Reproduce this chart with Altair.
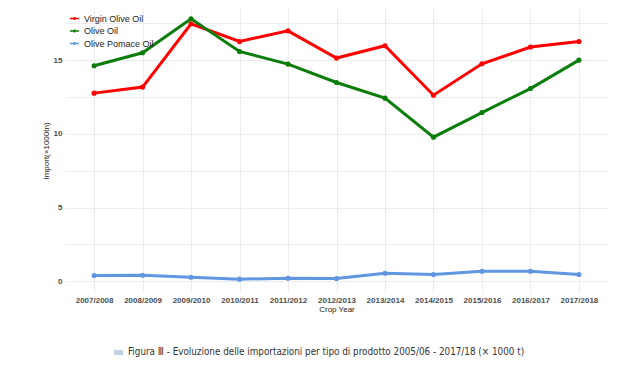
import altair as alt
import pandas as pd

years = ["2007/2008", "2008/2009", "2009/2010", "2010/2011", "2011/2012", "2012/2013",
         "2013/2014", "2014/2015", "2015/2016", "2016/2017", "2017/2018"]
series = ["Virgin Olive Oil", "Olive Oil", "Olive Pomace Oil"]
virgin = [12.77, 13.18, 17.48, 16.28, 17.0, 15.15, 15.99, 12.63, 14.76, 15.9, 16.28]
olive = [14.63, 15.51, 17.82, 15.6, 14.74, 13.49, 12.43, 9.78, 11.45, 13.08, 15.01]
pomace = [0.39, 0.41, 0.27, 0.14, 0.2, 0.18, 0.54, 0.46, 0.68, 0.68, 0.46]
colors = ["#ff0000", "#0a7d0a", "#6196e0"]
caption = "Figura Ⅲ - Evoluzione delle importazioni per tipo di prodotto 2005/06 - 2017/18 (× 1000 t)"

rows = []
for name, vals in zip(series, [virgin, olive, pomace]):
    for y, v in zip(years, vals):
        rows.append({"year": y, "product": name, "value": v})
df = pd.DataFrame(rows)

legend_path = ("M-1,-0.17L1,-0.17L1,0.17L-1,0.17Z "
               "M-0.34,0A0.34,0.34 0 1,1 0.34,0A0.34,0.34 0 1,1 -0.34,0Z")

lines = alt.Chart(df).mark_line(
    strokeWidth=3,
    point=alt.OverlayMarkDef(size=26, filled=True, opacity=1),
).encode(
    x=alt.X("year:N", sort=years, scale=alt.Scale(type="point", padding=0.6),
            axis=alt.Axis(title="Crop Year", labelAngle=0, labelFontSize=8,
                          labelFontWeight="bold", labelColor="#4d4d4d",
                          labelPadding=3, ticks=False, domain=False,
                          titleFontSize=8, titleFontWeight="normal",
                          titleColor="#222222", titlePadding=1,
                          grid=True, gridColor="#ececec", gridWidth=1)),
    y=alt.Y("value:Q", scale=alt.Scale(domain=[-0.8, 18.55], nice=False, zero=False),
            axis=alt.Axis(title="Import(×1000tn)",
                          values=[0, 2.5, 5, 7.5, 10, 12.5, 15, 17.5],
                          labelExpr="datum.value % 5 == 0 ? datum.label : ''",
                          labelFontSize=8, labelFontWeight="bold",
                          labelColor="#4d4d4d", labelPadding=3, ticks=False,
                          domain=False, titleFontSize=8, titleFontWeight="normal",
                          titleColor="#222222", titlePadding=3,
                          grid=True, gridColor="#ececec", gridWidth=1)),
    color=alt.Color("product:N", scale=alt.Scale(domain=series, range=colors),
                    legend=alt.Legend(title=None, orient="none", legendX=5, legendY=6,
                                      labelFontSize=9, labelColor="#222222",
                                      symbolType=legend_path, symbolSize=81,
                                      symbolStrokeWidth=0, rowPadding=2.5,
                                      labelOffset=5, padding=0)),
    order=alt.Order("product:N"),
)

cap_df = pd.DataFrame({"text": [caption]})
cap_text = alt.Chart(cap_df).mark_text(
    align="left", baseline="middle",
    font="'DejaVu Sans Condensed', 'Liberation Sans', sans-serif", fontSize=9.8,
    color="#333333"
).encode(text="text:N", x=alt.value(63), y=alt.value(344))

icon = alt.Chart(cap_df).mark_rect(color="#c3d3e6").encode(
    x=alt.value(49), x2=alt.value(58), y=alt.value(342), y2=alt.value(347)
)

chart = alt.layer(lines, cap_text, icon).properties(
    width=543, height=285,
    padding={"left": 57, "top": 0, "right": 20, "bottom": 69},
    autosize=alt.AutoSizeParams(type="none"),
    background="white",
).configure_view(stroke=None).configure_axis(labelFont="Liberation Sans", titleFont="Liberation Sans").configure_legend(labelFont="Liberation Sans")

chart.save("out.html", embed_options={"renderer": "svg", "actions": False})
